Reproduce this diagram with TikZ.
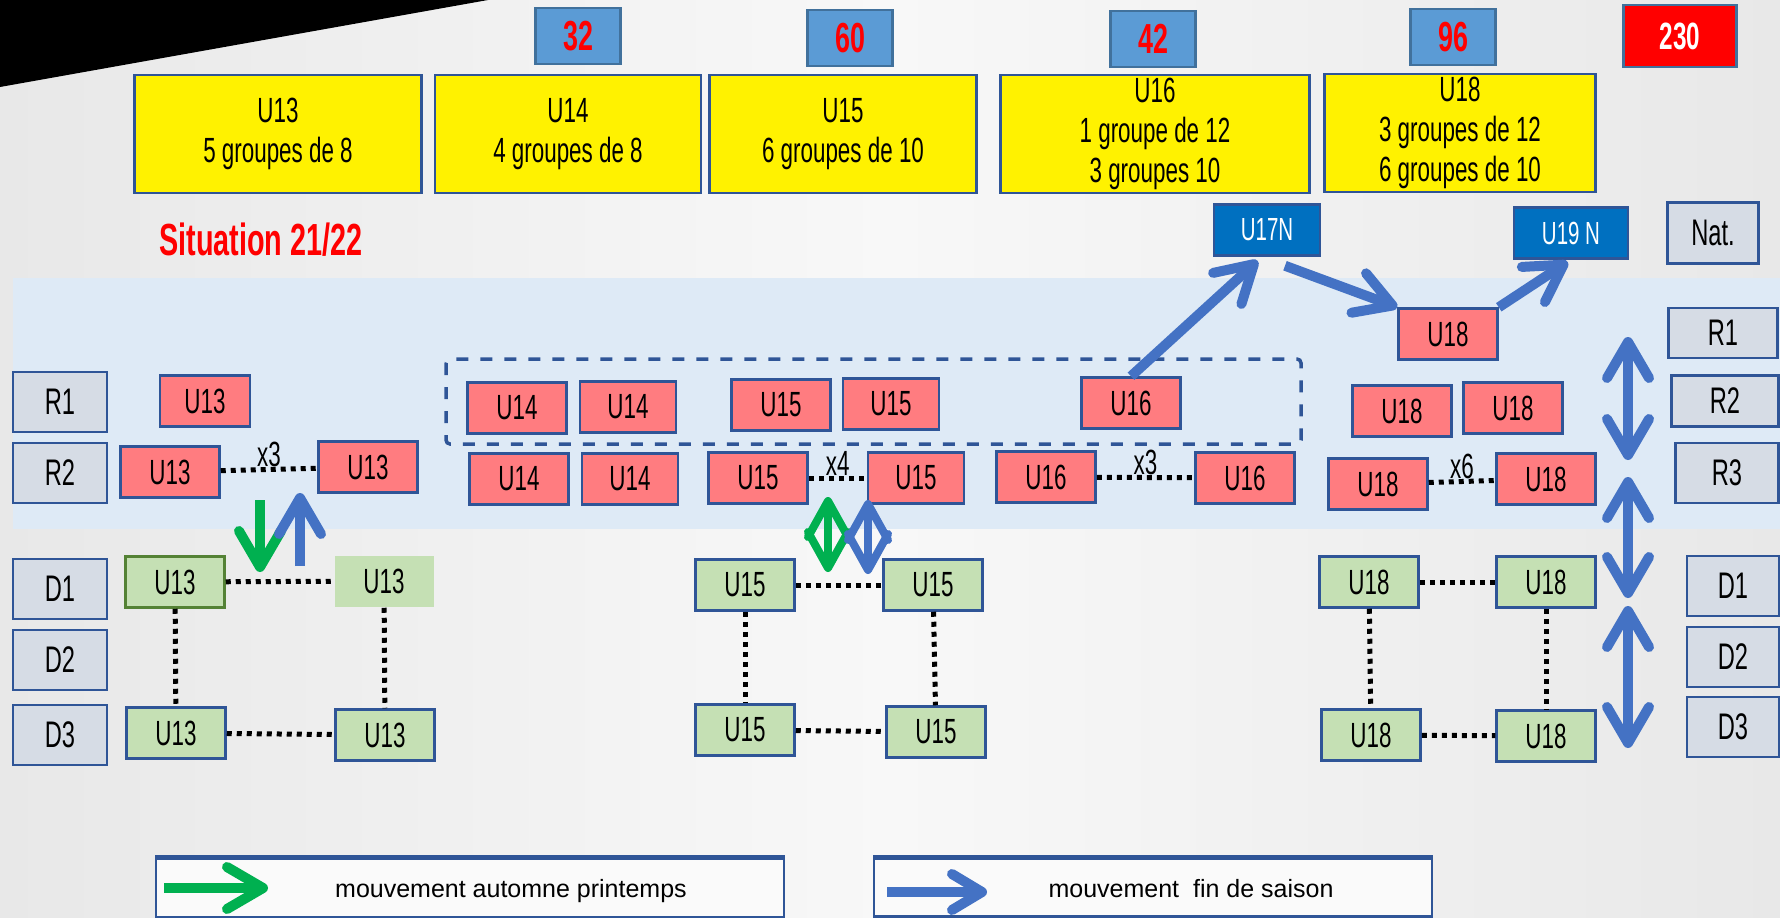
\documentclass[tikz,border=0pt]{standalone}
\usepackage{fontspec}
\setmainfont{Liberation Sans}[FakeStretch=0.64]
\newfontfamily\legendfont{Liberation Sans}
\usetikzlibrary{arrows.meta}
\definecolor{boxline}{RGB}{47,85,151}
\definecolor{salmon}{RGB}{255,124,128}
\definecolor{greenfill}{RGB}{197,224,180}
\definecolor{darkgreen}{RGB}{84,130,53}
\definecolor{numblue}{RGB}{91,155,213}
\definecolor{numline}{RGB}{65,113,156}
\definecolor{grayfill}{RGB}{214,220,229}
\definecolor{natblue}{RGB}{0,112,192}
\definecolor{bandblue}{RGB}{222,234,246}
\definecolor{finblue}{RGB}{68,114,196}
\definecolor{autgreen}{RGB}{0,176,80}
\definecolor{bgside}{RGB}{232,232,232}
\definecolor{bgmid}{RGB}{248,248,248}
\tikzset{
  pointe/.tip={Straight Barb[length=36pt, width=42pt, round]},
  losange/.tip={Straight Barb[length=36pt, width=40pt, round]},
  petite/.tip={Straight Barb[length=30pt, width=36pt, round]}
}
\begin{document}
\begin{tikzpicture}[x=1pt,y=-1pt,
  box/.style={draw=boxline, line width=2.5pt, inner sep=0pt, font=\fontsize{35}{40}\selectfont},
  rouge/.style={box, fill=salmon, minimum width=99pt, minimum height=51pt},
  vert/.style={box, fill=greenfill, minimum width=99pt, minimum height=51pt},
  jaune/.style={box, fill=yellow, minimum height=118pt, align=center},
  nombre/.style={box, draw=numline, fill=numblue, minimum width=85pt, minimum height=56pt,
    text=red, font=\fontsize{42}{42}\selectfont\bfseries},
  niveau/.style={box, fill=grayfill, minimum height=60pt, font=\fontsize{37}{37}\selectfont},
  national/.style={box, fill=natblue, minimum height=51pt, text=white, font=\fontsize{32}{32}\selectfont},
  lien/.style={line width=5pt, dash pattern=on 5pt off 5pt},
  fois/.style={font=\fontsize{35}{35}\selectfont, inner sep=0pt, anchor=south},
  fin/.style={draw=finblue, line width=10pt},
  aut/.style={draw=autgreen, line width=10pt},
  legende/.style={draw=boxline, line width=2pt, fill=white!96!gray, inner sep=0pt}]
\useasboundingbox (0,0) rectangle (1780,918);
\shade[left color=bgside, right color=bgside, middle color=bgmid] (0,0) rectangle (1780,918);
\fill[black] (0,0) -- (488,0) -- (0,87) -- cycle;
\fill[bandblue] (13,278) rectangle (1780,529);
\draw[boxline, line width=3.5pt, dash pattern=on 12pt off 12pt, rounded corners=4pt] (446,359) rectangle (1301,444);

\node[nombre] (n32) at (578,36) {32};
\node[nombre] (n60) at (850,38) {60};
\node[nombre] (n42) at (1153,39) {42};
\node[nombre] (n96) at (1453,37) {96};
\node[nombre, fill=red, text=white, minimum width=113pt, minimum height=62pt,
  font=\fontsize{38}{38}\selectfont\bfseries] (total) at (1680,36) {230};

\node[jaune, minimum width=287pt] (j13) at (278,134) {U13\\5 groupes de 8};
\node[jaune, minimum width=266pt] (j14) at (568,134) {U14\\4 groupes de 8};
\node[jaune, minimum width=267pt] (j15) at (843,134) {U15\\6 groupes de 10};
\node[jaune, minimum width=309pt] (j16) at (1155,134) {U16\\1 groupe de 12\\3 groupes 10};
\node[jaune, minimum width=271pt] (j18) at (1460,133) {U18\\3 groupes de 12\\6 groupes de 10};

\node[text=red, font=\fontsize{45}{45}\selectfont\bfseries] (titre) at (261,240) {Situation 21/22};

\node[national, minimum width=106pt] (u17n) at (1267,230) {U17N};
\node[national, minimum width=114pt] (u19n) at (1571,233) {U19 N};
\node[niveau, minimum width=91pt, minimum height=61pt] (nat) at (1713,233) {Nat.};

\node[niveau, minimum width=94pt] (gR1) at (60,402) {R1};
\node[niveau, minimum width=94pt] (gR2) at (60,473) {R2};
\node[niveau, minimum width=94pt] (gD1) at (60,589) {D1};
\node[niveau, minimum width=94pt] (gD2) at (60,660) {D2};
\node[niveau, minimum width=94pt] (gD3) at (60,735) {D3};
\node[niveau, minimum width=109pt, minimum height=50pt] (dR1) at (1723,333) {R1};
\node[niveau, minimum width=107pt, minimum height=51pt] (dR2) at (1725,401) {R2};
\node[niveau, minimum width=103pt] (dR3) at (1727,473) {R3};
\node[niveau, minimum width=92pt] (dD1) at (1733,586) {D1};
\node[niveau, minimum width=92pt] (dD2) at (1733,657) {D2};
\node[niveau, minimum width=92pt] (dD3) at (1733,727) {D3};

\node[rouge, minimum width=90pt] (r13a) at (205,401) {U13};
\node[rouge] (r13b) at (170,472) {U13};
\node[rouge] (r13c) at (368,467) {U13};
\node[rouge] (r14a) at (517,408) {U14};
\node[rouge, minimum width=96pt] (r14b) at (628,407) {U14};
\node[rouge] (r14c) at (519,479) {U14};
\node[rouge, minimum width=96pt] (r14d) at (630,479) {U14};
\node[rouge] (r15a) at (781,405) {U15};
\node[rouge, minimum width=96pt] (r15b) at (891,404) {U15};
\node[rouge] (r15c) at (758,478) {U15};
\node[rouge, minimum width=96pt] (r15d) at (916,478) {U15};
\node[rouge] (r16a) at (1131,403) {U16};
\node[rouge] (r16b) at (1046,477) {U16};
\node[rouge] (r16c) at (1245,478) {U16};
\node[rouge] (r18top) at (1448,334) {U18};
\node[rouge] (r18a) at (1402,411) {U18};
\node[rouge] (r18b) at (1513,408) {U18};
\node[rouge] (r18c) at (1378,484) {U18};
\node[rouge] (r18d) at (1546,479) {U18};

\node[vert, draw=darkgreen] (g13a) at (175,582) {U13};
\node[vert, draw=none] (g13b) at (384,581) {U13};
\node[vert] (g13c) at (176,733) {U13};
\node[vert] (g13d) at (385,735) {U13};
\node[vert] (g15a) at (745,585) {U15};
\node[vert] (g15b) at (933,585) {U15};
\node[vert] (g15c) at (745,730) {U15};
\node[vert] (g15d) at (936,732) {U15};
\node[vert] (g18a) at (1369,582) {U18};
\node[vert] (g18b) at (1546,582) {U18};
\node[vert] (g18c) at (1371,735) {U18};
\node[vert] (g18d) at (1546,736) {U18};

\draw[lien] (r13b) -- node[fois]{x3} (r13c);
\draw[lien] (r15c) -- node[fois]{x4} (r15d);
\draw[lien] (r16b) -- node[fois]{x3} (r16c);
\draw[lien] (r18c) -- node[fois]{x6} (r18d);
\draw[lien] (g13a) -- (g13b);
\draw[lien] (g13c) -- (g13d);
\draw[lien] (g13a) -- (g13c);
\draw[lien] (g13b) -- (g13d);
\draw[lien] (g15a) -- (g15b);
\draw[lien] (g15c) -- (g15d);
\draw[lien] (g15a) -- (g15c);
\draw[lien] (g15b) -- (g15d);
\draw[lien] (g18a) -- (g18b);
\draw[lien] (g18c) -- (g18d);
\draw[lien] (g18a) -- (g18c);
\draw[lien] (g18b) -- (g18d);

\coordinate (aut13a) at (260,500);
\coordinate (aut13b) at (260,572);
\coordinate (fin13a) at (300,566);
\coordinate (fin13b) at (300,493);
\coordinate (aut15a) at (828,497);
\coordinate (aut15b) at (828,572);
\coordinate (fin15a) at (868,500);
\coordinate (fin15b) at (868,574);
\coordinate (niv1a) at (1628,337);
\coordinate (niv1b) at (1628,460);
\coordinate (niv2a) at (1628,477);
\coordinate (niv2b) at (1628,598);
\coordinate (niv3a) at (1628,606);
\coordinate (niv3b) at (1628,748);

\draw[aut, -pointe] (aut13a) -- (aut13b);
\draw[fin, -pointe] (fin13a) -- (fin13b);
\draw[aut, line width=8pt, losange-losange] (aut15a) -- (aut15b);
\draw[fin, line width=8pt, losange-losange] (fin15a) -- (fin15b);
\draw[fin, pointe-pointe] (niv1a) -- (niv1b);
\draw[fin, pointe-pointe] (niv2a) -- (niv2b);
\draw[fin, pointe-pointe] (niv3a) -- (niv3b);

\draw[fin, -pointe, shorten >=6pt] (r16a.north) -- ([shift={(-5,0)}]u17n.south);
\draw[fin, -pointe] ([shift={(18,9)}]u17n.south) -- (r18top.north west);
\draw[fin, -pointe, shorten >=4pt] (r18top.north east) -- (u19n.south);

\node[legende, minimum width=628pt, minimum height=59pt] (leg1) at (470,888) {};
\node[legende, minimum width=558pt, minimum height=58pt] (leg2) at (1153,887) {};
\draw[boxline, line width=5pt] (leg1.north west) -- (leg1.north east);
\draw[boxline, line width=5pt] (leg1.south west) -- (leg1.south east);
\draw[boxline, line width=5pt] (leg2.north west) -- (leg2.north east);
\draw[boxline, line width=5pt] (leg2.south west) -- (leg2.south east);
\node[font=\legendfont\fontsize{25}{25}\selectfont] (txt1) at (511,891) {mouvement automne printemps};
\node[font=\legendfont\fontsize{25}{25}\selectfont] (txt2) at (1191,889) {mouvement\ \ fin de saison};
\draw[aut, -pointe] ([xshift=9pt]leg1.west) -- ++(104,0);
\draw[fin, -petite] ([xshift=14pt,yshift=-5pt]leg2.west) -- ++(100,0);
\end{tikzpicture}
\end{document}
